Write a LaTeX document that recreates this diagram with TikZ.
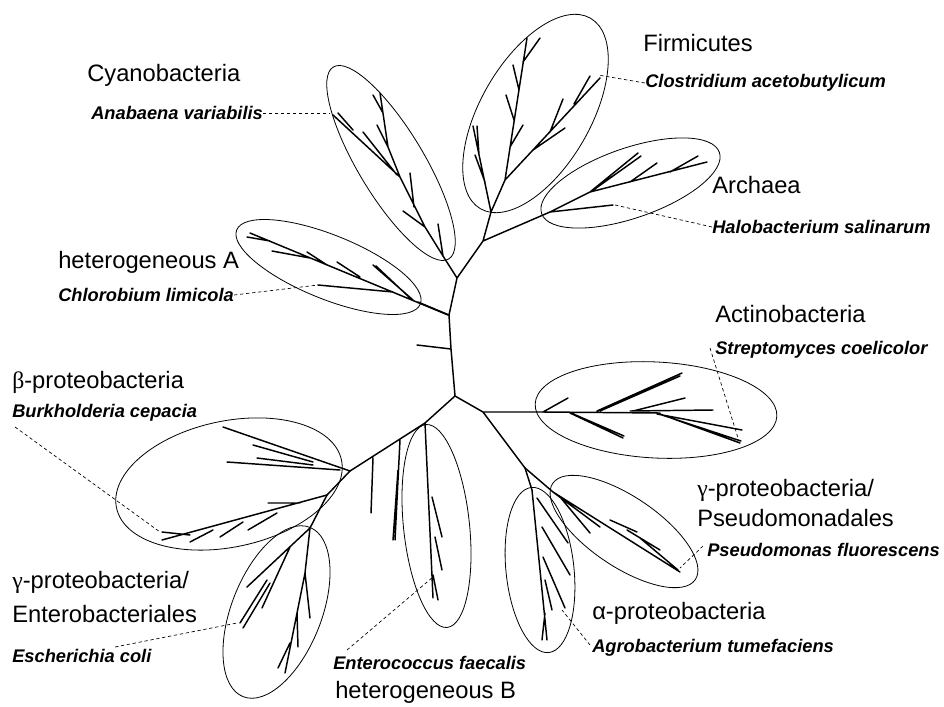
\documentclass[tikz,border=0pt]{standalone}
\usepackage{fontspec}
\setmainfont{Liberation Sans}
\newfontfamily\grk{Liberation Serif}
\begin{document}
\begin{tikzpicture}[x=0.75pt,y=-0.75pt,
  tree/.style={line width=1.1pt,line cap=round,line join=round},
  clade/.style={line width=0.6pt},
  lead/.style={dashed,line width=0.5pt,dash pattern=on 2.5pt off 2pt},
  grp/.style={anchor=west,inner sep=0pt,font=\fontsize{17.8}{20}\selectfont},
  sp/.style={anchor=west,inner sep=0pt,font=\fontsize{13.7}{16}\selectfont\bfseries\itshape}]
\useasboundingbox (0,0) rectangle (944,706);
% ---------------- backbone ----------------
\draw[tree] (491,212)--(483,241)--(457,278)--(449,315)--(451,349)--(455,396)
  (417,345)--(451,349)
  (483,241)--(550,212)
  (457,278)--(443,256)
  (449,315)--(418,302)
  (455,396)--(425,423)
  (455,396)--(483,412)--(543,412)
  (483,412)--(525,468);
% ---------------- Cyanobacteria ----------------
\draw[tree] (443,256)--(425,227)--(400,177)--(333,115)
  (443,256)--(438,224)
  (425,227)--(403,211)
  (414,207)--(410,173)
  (400,177)--(388,147)--(380,93)
  (388,147)--(377,125)
  (383,113)--(373,95)
  (338,113)--(353,130)
  (397,175)--(363,132);
% ---------------- Firmicutes ----------------
\draw[tree] (491,212)--(505,180)--(600,78)
  (505,180)--(527,38)
  (533,150)--(565,128)
  (550,132)--(563,99)
  (574,104)--(590,76)
  (510,147)--(523,125)
  (514,120)--(506,95)
  (519,90)--(513,65)
  (523,62)--(540,38)
  (491,212)--(473,126)
  (485,182)--(475,155)
  (479,155)--(477,126);
% ---------------- Archaea ----------------
\draw[tree] (550,212)--(613,205)
  (550,212)--(590,192)--(707,162)
  (590,192)--(638,153)
  (592,191)--(641,156)
  (630,182)--(657,163)
  (670,172)--(698,156);
% ---------------- heterogeneous A ----------------
\draw[tree] (448,315)--(250,233)
  (413,300)--(373,265)
  (410,298)--(376,266)
  (360,277)--(337,262)
  (327,265)--(307,252)
  (310,258)--(272,251)
  (270,241)--(247,237)
  (393,292)--(318,285);
% ---------------- Actinobacteria ----------------
\draw[tree] (543,412)--(660,413)
  (543,412)--(568,398)
  (570,413)--(623,438)
  (571,413)--(624,436)
  (597,411)--(682,373)
  (600,411)--(680,376)
  (630,411)--(713,410)
  (633,411)--(685,398)
  (657,414)--(742,430)
  (660,414)--(740,443)
  (662,415)--(741,441);
% ---------------- Pseudomonadales ----------------
\draw[tree] (525,468)--(553,492)--(680,572)
  (553,492)--(600,527)
  (560,497)--(590,533)
  (610,520)--(637,532)
  (627,530)--(660,550)
  (640,538)--(678,570);
% ---------------- alpha ----------------
\draw[tree] (525,468)--(532,490)--(547,640)
  (537,498)--(568,543)
  (542,527)--(570,575)
  (543,557)--(565,608)
  (545,580)--(552,610)
  (545,613)--(542,640);
% ---------------- heterogeneous B ----------------
\draw[tree] (425,423)--(433,598)
  (432,497)--(442,537)
  (435,537)--(442,570)
  (433,575)--(438,600)
  (425,423)--(350,471)
  (400,440)--(395,540)
  (398,470)--(393,540)
  (373,458)--(371,513);
% ---------------- beta ----------------
\draw[tree] (350,471)--(223,427)
  (313,462)--(253,445)
  (340,470)--(227,462)
  (313,465)--(257,458)
  (350,471)--(327,495)--(162,540)
  (300,503)--(268,503)
  (277,513)--(248,530)
  (243,522)--(220,537)
  (213,530)--(190,542)
  (190,535)--(162,532);
% ---------------- gamma Enterobacteriales ----------------
\draw[tree] (327,495)--(310,528)--(247,587)
  (290,547)--(262,608)
  (267,580)--(240,623)
  (270,583)--(243,628)
  (310,528)--(305,573)--(310,618)
  (305,573)--(285,673)
  (297,613)--(298,647)
  (290,643)--(278,668);
% ---------------- clade ellipses ----------------
\draw[clade] (391,163) ellipse [x radius=112, y radius=33, rotate=-59];
\draw[clade] (535.5,113.5) ellipse [x radius=110, y radius=55, rotate=60];
\draw[clade] (630.5,183) ellipse [x radius=94, y radius=35, rotate=19];
\draw[clade] (328.5,267) ellipse [x radius=99, y radius=32, rotate=-22];
\draw[clade] (656,410) ellipse [x radius=121, y radius=48, rotate=-3];
\draw[clade] (229,484) ellipse [x radius=115, y radius=63, rotate=12];
\draw[clade] (276.5,612) ellipse [x radius=91, y radius=45, rotate=68.5];
\draw[clade] (436.5,526) ellipse [x radius=102, y radius=33, rotate=-84];
\draw[clade] (540,570) ellipse [x radius=83, y radius=34, rotate=-84];
\draw[clade] (624,531.5) ellipse [x radius=86, y radius=35, rotate=-34];
% ---------------- labels ----------------
\node[grp] (cyano) at (87,75) {Cyanobacteria};
\node[sp] (anab) at (91,113) {Anabaena variabilis};
\node[grp] (firm) at (643,43) {Firmicutes};
\node[sp] (clos) at (645,83) {Clostridium acetobutylicum};
\node[grp] (arch) at (712,185) {Archaea};
\node[sp] (halo) at (712,227) {Halobacterium salinarum};
\node[grp] (hetA) at (58,262) {heterogeneous A};
\node[sp] (chlo) at (58,295) {Chlorobium limicola};
\node[grp] (actino) at (715,314) {Actinobacteria};
\node[sp] (strep) at (715,350) {Streptomyces coelicolor};
\node[grp] (beta) at (12,382) {{\grk β}-proteobacteria};
\node[sp] (burk) at (12,413) {Burkholderia cepacia};
\node[grp] (gamE1) at (12,582) {{\grk γ}-proteobacteria/};
\node[grp] (gamE2) at (12,614) {Enterobacteriales};
\node[sp] (esch) at (12,656) {Escherichia coli};
\node[sp] (ente) at (333,663) {Enterococcus faecalis};
\node[grp] (hetB) at (335,692) {heterogeneous B};
\node[grp] (gamP1) at (697,490) {{\grk γ}-proteobacteria/};
\node[grp] (gamP2) at (697,518) {Pseudomonadales};
\node[sp] (pseu) at (707,550) {Pseudomonas fluorescens};
\node[grp] (alpha) at (592,613) {α-proteobacteria};
\node[sp] (agro) at (592,648) {Agrobacterium tumefaciens};
% ---------------- leaders ----------------
\coordinate (anabT) at (330,113);
\coordinate (closT) at (598,75);
\coordinate (haloT) at (615,205);
\coordinate (chloT) at (318,285);
\coordinate (strepS) at (710,348);
\coordinate (strepT) at (738,438);
\coordinate (burkS) at (15,427);
\coordinate (burkT) at (160,532);
\coordinate (eschS) at (115,647);
\coordinate (eschT) at (237,623);
\coordinate (enteS) at (347,650);
\coordinate (enteT) at (433,577);
\coordinate (pseuS) at (703,546);
\coordinate (pseuT) at (680,568);
\coordinate (agroS) at (590,645);
\coordinate (agroT) at (562,610);
\draw[lead] (anab.east) -- (anabT);
\draw[lead] (clos.west) -- (closT);
\draw[lead] (halo.west) -- (haloT);
\draw[lead] (chlo.east) -- (chloT);
\draw[lead] (strepS) -- (strepT);
\draw[lead] (burkS) -- (burkT);
\draw[lead] (eschS) -- (eschT);
\draw[lead] (enteS) -- (enteT);
\draw[lead] (pseuS) -- (pseuT);
\draw[lead] (agroS) -- (agroT);
\end{tikzpicture}
\end{document}
